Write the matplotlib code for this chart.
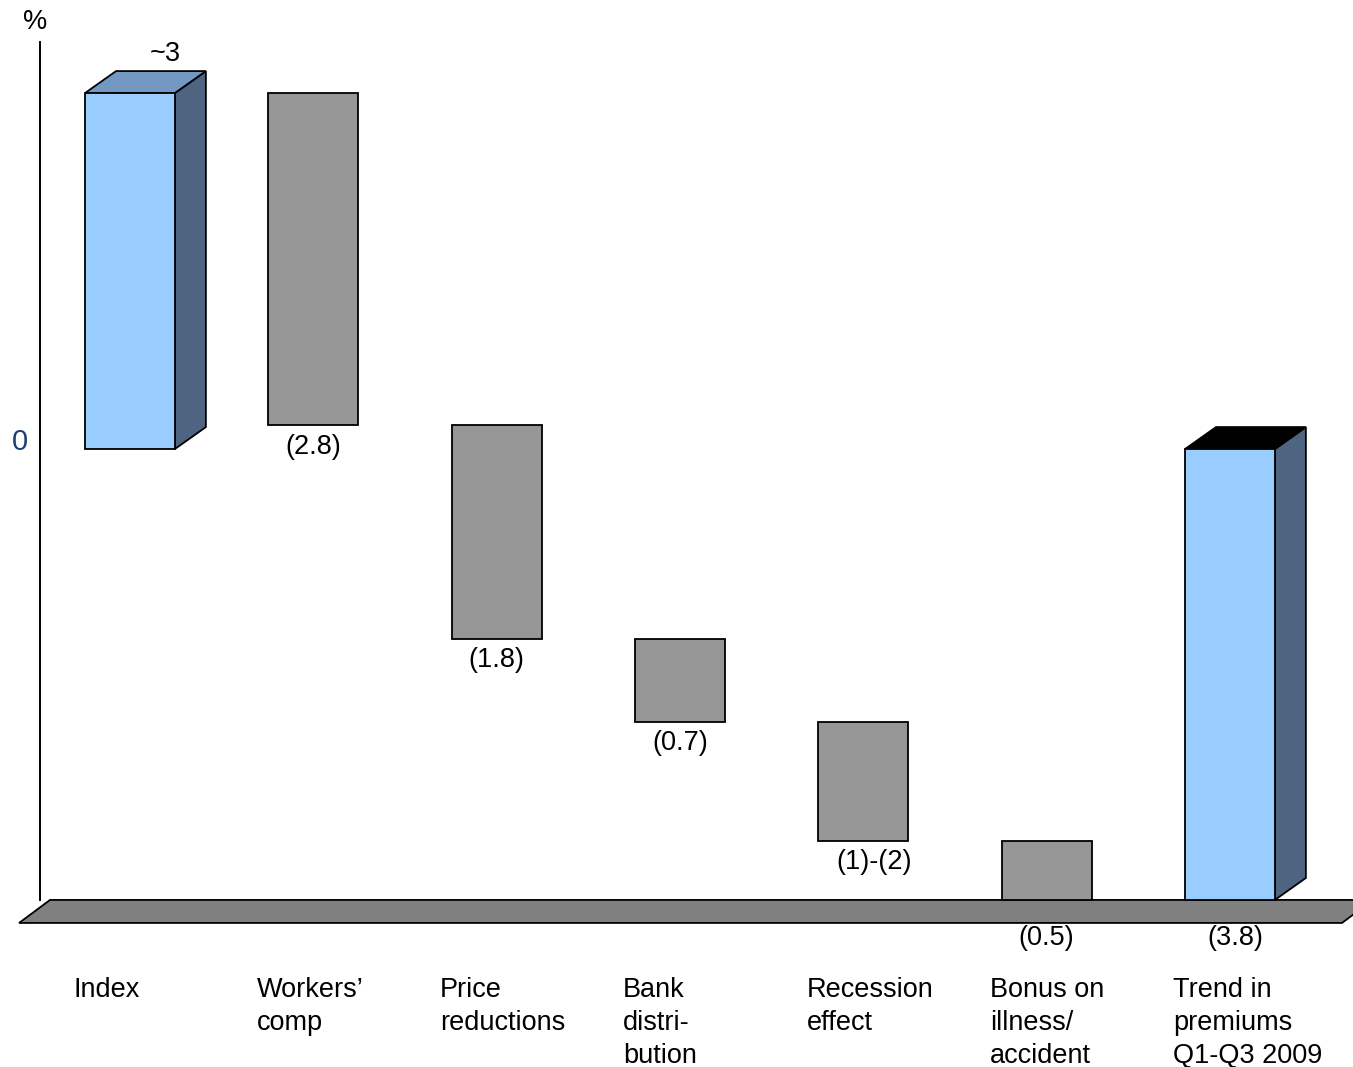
import numpy as np
import matplotlib
matplotlib.use('Agg')
import matplotlib.pyplot as plt
from matplotlib.patches import Polygon, Rectangle

plt.rcParams['font.family'] = ['Liberation Sans', 'DejaVu Sans']

# premium development drivers, in %
categories = ['Index', 'Workers\u2019\ncomp', 'Price\nreductions', 'Bank\ndistri-\nbution',
              'Recession\neffect', 'Bonus on\nillness/\naccident', 'Trend in\npremiums\nQ1-Q3 2009']
index_value = 3.0
changes = [-2.8, -1.8, -0.7, -1.0, -0.5]
trend_value = -3.8
value_labels = ['~3', '(2.8)', '(1.8)', '(0.7)', '(1)-(2)', '(0.5)', '(3.8)']

BLUE = '#99CCFF'
SIDE = '#4F6480'
TOP_INDEX = '#7399C2'
GREY = '#969696'
FLOOR = '#808080'
FS = 19.5

fig = plt.figure(figsize=(13.53, 10.67), dpi=100)
ax = fig.add_axes([0, 0, 1, 1])
ax.set_xlim(-0.709, 6.671)
ax.set_ylim(-5.208, 3.784)
ax.axis('off')

x = np.arange(len(categories))
w = 0.49
dx, dy = 0.169, 0.185  # depth of the 3d boxes
floor_h = 0.194

def box3d(xc, bottom, top, top_color):
    l, r = xc - w / 2, xc + w / 2
    ax.add_patch(Polygon([(r, bottom), (r + dx, bottom + dy), (r + dx, top + dy), (r, top)],
                         closed=True, fc=SIDE, ec='black', lw=1.3, zorder=3))
    ax.add_patch(Polygon([(l, top), (r, top), (r + dx, top + dy), (l + dx, top + dy)],
                         closed=True, fc=top_color, ec='black', lw=1.3, zorder=3))
    ax.add_patch(Rectangle((l, bottom), w, top - bottom, fc=BLUE, ec='black', lw=1.3, zorder=4))

# floor slab
floor_top = trend_value
fl, fr = -0.605, 6.611
ax.add_patch(Polygon([(fl, floor_top - floor_h), (fr, floor_top - floor_h),
                      (fr + dx, floor_top), (fl + dx, floor_top)],
                     closed=True, fc=FLOOR, ec='black', lw=1.3, zorder=1))

# y axis line
ax.plot([-0.491, -0.491], [floor_top, 3.43], color='black', lw=1.4, zorder=2)
ax.text(-0.52, 3.6, '%', ha='center', va='center', fontsize=FS)
ax.text(-0.60, 0.06, '0', ha='center', va='center', fontsize=21, color='#1F3F77')

# index bar
box3d(x[0], 0, index_value, TOP_INDEX)
ax.text(x[0] + 0.19, index_value + 0.33, value_labels[0], ha='center', va='center', fontsize=FS)

# waterfall steps
level = index_value
for i, ch in enumerate(changes, start=1):
    bottom = level + ch
    ax.bar(x[i], -ch, bottom=bottom, width=w, color=GREY, edgecolor='black', lw=1.3, zorder=2)
    if i < len(changes):
        ly = bottom - 0.18
        lx = x[i] + (0.06 if i == 4 else 0)
    else:
        ly = floor_top - 0.32
        lx = x[i]
    ax.text(lx, ly, value_labels[i], ha='center', va='center', fontsize=FS)
    level = bottom

# resulting trend
box3d(x[6], trend_value, 0, 'black')
ax.text(x[6] + 0.03, floor_top - 0.32, value_labels[6], ha='center', va='center', fontsize=FS)

# category labels
for xi, cat in zip(x, categories):
    ax.text(xi - 0.31, -4.45, cat, ha='left', va='top', fontsize=FS, linespacing=1.35)

fig.savefig('out.png', dpi=100)
